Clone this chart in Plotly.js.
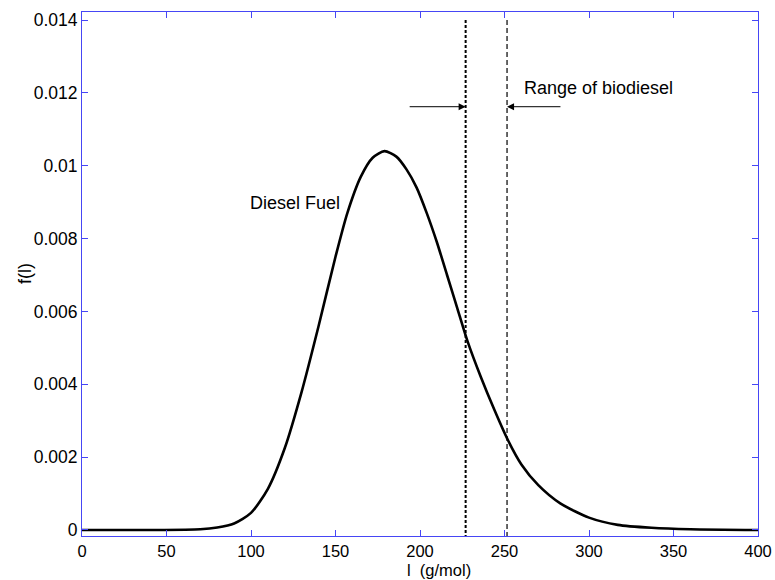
<!DOCTYPE html>
<html>
<head>
<meta charset="utf-8">
<script src="https://cdn.plot.ly/plotly-3.0.1.min.js"></script>
<style>html,body{margin:0;padding:0;background:#fff;}#chart{width:775px;height:580px;}</style>
</head>
<body>
<div id="chart"></div>
<script>
// Diesel fuel distribution f(l) vs molecular weight l (g/mol)
const molWeight = [0, 40, 70, 80, 90, 100, 110, 120, 130, 140, 150, 157, 165, 172, 179, 186, 192, 198, 204, 210, 216, 222, 228, 236, 244, 252, 260, 270, 283, 300, 317, 337, 360, 400];
const density   = [0, 0, 0.00002, 0.00007, 0.00018, 0.00047, 0.00113, 0.00225, 0.0038, 0.0056, 0.0075, 0.0087, 0.0097, 0.01022, 0.0104, 0.01025, 0.0099, 0.0094, 0.0087, 0.0079, 0.0070, 0.0061, 0.0052, 0.0042, 0.0033, 0.00247, 0.0018, 0.00123, 0.00073, 0.00034, 0.00014, 0.00006, 0.00002, 0];

// Range of biodiesel (vertical dashed lines)
const biodieselRange = [227, 251.5];
const rangeLineTop = 0.014;
const arrowLevel = 0.01162;
const arrowTails = [193, 284];

const xTicks = [0, 50, 100, 150, 200, 250, 300, 350, 400];
const yTicks = [0, 0.002, 0.004, 0.006, 0.008, 0.01, 0.012, 0.014];
const yTickText = ['0', '0.002', '0.004', '0.006', '0.008', '0.01', '0.012', '0.014'];

const yMin = -0.000165, yMax = 0.01422;
const axisColor = '#4646f5';
const font = 'Liberation Sans, Arial, sans-serif';

const traces = [
  {x: molWeight, y: density, type: 'scatter', mode: 'lines',
   line: {color: '#000', width: 2.6, shape: 'spline', smoothing: 0.7}, hoverinfo: 'x+y'},
  {x: [biodieselRange[0], biodieselRange[0]], y: [rangeLineTop, yMin], type: 'scatter', mode: 'lines',
   line: {color: '#000', width: 2, dash: '3px,2px'}},
  {x: [biodieselRange[1], biodieselRange[1]], y: [rangeLineTop, yMin], type: 'scatter', mode: 'lines',
   line: {color: '#000', width: 1.2, dash: '5px,3px'}}
];

const layout = {
  width: 775, height: 580,
  margin: {l: 82, r: 17, t: 12, b: 44},
  paper_bgcolor: '#fff', plot_bgcolor: '#fff',
  showlegend: false,
  font: {family: font, size: 17, color: '#000'},
  xaxis: {
    range: [0, 400], tickvals: xTicks, ticktext: xTicks.map(String),
    ticks: 'inside', ticklen: 6, tickcolor: axisColor, tickwidth: 1,
    showline: true, linecolor: axisColor, linewidth: 1, mirror: 'ticks',
    showgrid: false, zeroline: false, tickfont: {family: font, size: 16.5, color: '#000'}
  },
  yaxis: {
    range: [yMin, yMax], tickvals: yTicks, ticktext: yTickText,
    ticks: 'inside', ticklen: 6, tickcolor: axisColor, tickwidth: 1,
    showline: true, linecolor: axisColor, linewidth: 1, mirror: 'ticks',
    showgrid: false, zeroline: false, tickfont: {family: font, size: 17.5, color: '#000'}
  },
  annotations: [
    {x: biodieselRange[0], y: arrowLevel, ax: arrowTails[0], ay: arrowLevel, xref: 'x', yref: 'y', axref: 'x', ayref: 'y',
     text: '', showarrow: true, arrowhead: 2, arrowsize: 1.4, arrowwidth: 1, arrowcolor: '#000'},
    {x: biodieselRange[1], y: arrowLevel, ax: arrowTails[1], ay: arrowLevel, xref: 'x', yref: 'y', axref: 'x', ayref: 'y',
     text: '', showarrow: true, arrowhead: 2, arrowsize: 1.4, arrowwidth: 1, arrowcolor: '#000'},
    {x: 260.5, y: 0.01213, xref: 'x', yref: 'y', xanchor: 'left', yanchor: 'middle', showarrow: false,
     text: 'Range of biodiesel', font: {family: font, size: 18, color: '#000'}},
    {x: 126, y: 0.00897, xref: 'x', yref: 'y', xanchor: 'center', yanchor: 'middle', showarrow: false,
     text: 'Diesel Fuel', font: {family: font, size: 18, color: '#000'}},
    {x: 0.5, y: 0, xref: 'paper', yref: 'paper', xanchor: 'center', yanchor: 'top', yshift: -23, xshift: 19, showarrow: false,
     text: 'l  (g/mol)', font: {family: font, size: 16.5, color: '#000'}},
    {x: 0, y: 0.5, xref: 'paper', yref: 'paper', xanchor: 'center', yanchor: 'middle', xshift: -57, showarrow: false,
     textangle: -90, text: 'f(l)', font: {family: font, size: 18, color: '#000'}}
  ]
};

Plotly.newPlot('chart', traces, layout, {displayModeBar: false, staticPlot: true});
</script>
</body>
</html>
